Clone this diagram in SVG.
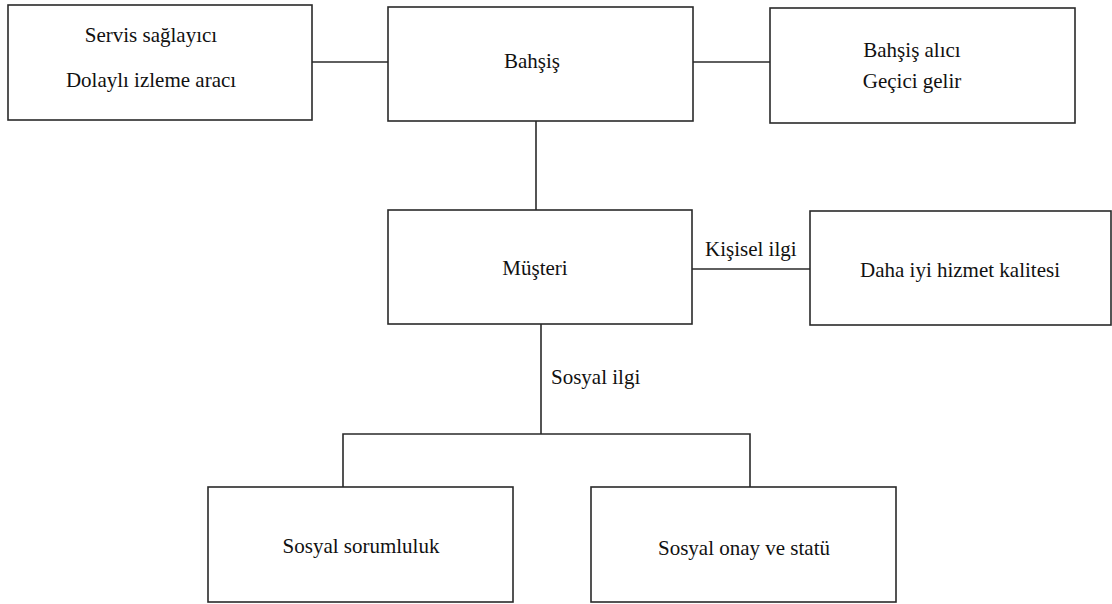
<svg xmlns="http://www.w3.org/2000/svg" width="1112" height="604" viewBox="0 0 1112 604">
<style>
.box{fill:#fff;stroke:#2a2a2a;stroke-width:1.6}
.ln{fill:none;stroke:#2a2a2a;stroke-width:1.6}
.t{font-family:'Liberation Serif','Times New Roman',serif;font-size:21px;fill:#111;text-anchor:middle}
.lab{text-anchor:start}
</style>
<rect width="1112" height="604" fill="#fff"/>
<g id="connectors">
<line class="ln" x1="312" y1="62" x2="388" y2="62"/>
<line class="ln" x1="693" y1="62" x2="770" y2="62"/>
<line class="ln" x1="536" y1="121" x2="536" y2="210"/>
<line class="ln" x1="692" y1="269" x2="810" y2="269"/>
<polyline class="ln" points="541,324 541,434"/>
<polyline class="ln" points="343,487 343,434 750,434 750,487"/>
<text class="t lab" x="705" y="256">Kişisel ilgi</text>
<text class="t lab" x="551" y="384">Sosyal ilgi</text>
</g>
<g id="servis">
<rect class="box" x="8" y="5" width="304" height="115"/>
<text class="t" x="151" y="42">Servis sağlayıcı</text>
<text class="t" x="151" y="87">Dolaylı izleme aracı</text>
</g>
<g id="bahsis">
<rect class="box" x="388" y="7" width="305" height="114"/>
<text class="t" x="532" y="68">Bahşiş</text>
</g>
<g id="bahsis-alici">
<rect class="box" x="770" y="8" width="305" height="115"/>
<text class="t" x="912" y="57">Bahşiş alıcı</text>
<text class="t" x="912" y="88">Geçici gelir</text>
</g>
<g id="musteri">
<rect class="box" x="388" y="210" width="304" height="114"/>
<text class="t" x="535" y="275">Müşteri</text>
</g>
<g id="daha">
<rect class="box" x="810" y="211" width="301" height="114"/>
<text class="t" x="960" y="277">Daha iyi hizmet kalitesi</text>
</g>
<g id="sorumluluk">
<rect class="box" x="208" y="487" width="305" height="115"/>
<text class="t" x="361" y="553">Sosyal sorumluluk</text>
</g>
<g id="onay">
<rect class="box" x="591" y="487" width="305" height="115"/>
<text class="t" x="744" y="555">Sosyal onay ve statü</text>
</g>
</svg>
